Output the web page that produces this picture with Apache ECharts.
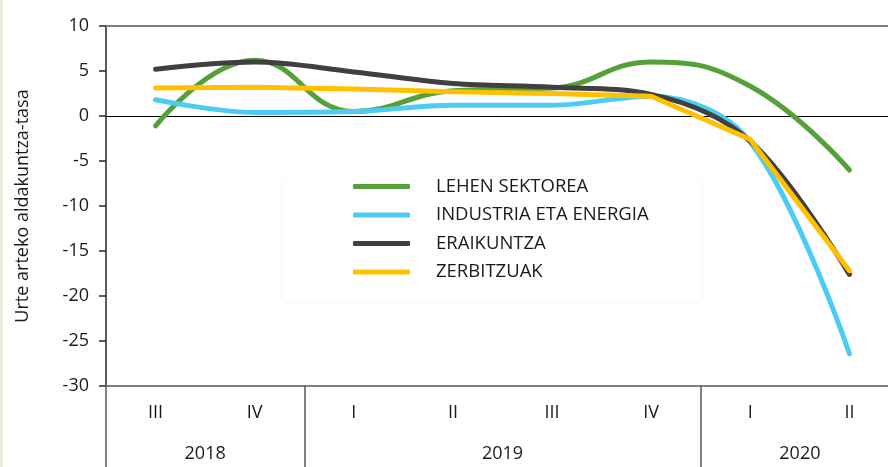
<!DOCTYPE html>
<html>
<head>
<meta charset="utf-8">
<script src="https://cdn.jsdelivr.net/npm/echarts@6/dist/echarts.min.js"></script>
<style>
  html, body { margin: 0; padding: 0; background: #fff; overflow: hidden; }
  #chart { width: 912px; height: 467px; box-sizing: border-box; border-left: 3px solid #e6f2df; }
</style>
</head>
<body>
<div id="chart"></div>
<script>
// ─── Data ─────────────────────────────────────────────────────────────────
const quarters = ["III", "IV", "I", "II", "III", "IV", "I", "II"];
// year label sits at a half-quarter slot (17 slots for 8 quarters)
const years = ["2018", "2019", "2020"];
const yearSlots = [2, 8, 14];
const yearBounds = [0, 4, 12, 16];

const lehenSektorea = [-1.1, 6.2, 0.5, 2.8, 3.1, 6.0, 3.3, -6.0];
const industria     = [1.8, 0.4, 0.5, 1.2, 1.2, 2.2, -2.9, -26.4];
const eraikuntza    = [5.2, 6.0, 4.9, 3.6, 3.2, 2.4, -2.8, -17.6];
const zerbitzuak    = [3.1, 3.2, 3.0, 2.7, 2.5, 2.2, -2.6, -17.2];

const FONT = "'Open Sans', sans-serif";
const TXT = '#1a1a1a';

// ─── Year axis labels (half-quarter slots) ────────────────────────────────
const yearData = [];
for (let i = 0; i <= 16; i++) {
  const k = yearSlots.indexOf(i);
  yearData.push(k >= 0 ? years[k] : '');
}

function line(name, data, color, smooth) {
  return {
    name, type: 'line', data, smooth,
    xAxisIndex: 0,
    showSymbol: false, symbol: 'none',
    lineStyle: { color, width: 5, cap: 'round', join: 'round' },
    itemStyle: { color },
  };
}

// ─── Chart ────────────────────────────────────────────────────────────────
// the plot runs past the right edge of the window, so the div is wider
const chart = echarts.init(document.getElementById('chart'));

chart.setOption({
  animation: false,
  grid: { left: 103, top: 26, bottom: 81, width: 793 },
  legend: {
    orient: 'vertical',
    left: 280, top: 177,
    padding: [0, 52, 20, 70],
    backgroundColor: '#fff',
    shadowBlur: 5,
    shadowColor: 'rgba(0,0,0,0.05)',
    icon: 'roundRect',
    itemWidth: 57, itemHeight: 5,
    itemGap: 9.5,
    textStyle: { fontFamily: FONT, fontSize: 18.5, color: TXT, lineHeight: 18, padding: [0, 0, 0, 21] },
  },
  xAxis: [
    { // quarter labels + short ticks at bottom
      type: 'category', data: quarters, position: 'bottom',
      axisLine: { onZero: false, lineStyle: { color: '#808080', width: 2 } },
      axisTick: { length: 42, lineStyle: { color: '#595959', width: 1.5 } },
      axisLabel: { fontFamily: FONT, fontSize: 18, color: TXT, margin: 18 },
    },
    { // year labels + long ticks at year bounds
      type: 'category', data: yearData, position: 'bottom', boundaryGap: false,
      axisLine: { show: false, onZero: false },
      axisTick: {
        length: 81, interval: (i) => yearBounds.includes(i),
        lineStyle: { color: '#595959', width: 1.5 },
      },
      axisLabel: {
        interval: (i) => yearSlots.includes(i),
        fontFamily: FONT, fontSize: 18, color: TXT, margin: 59,
      },
    },
    { // zero line, ticks upward
      type: 'category', data: quarters,
      axisLine: { onZero: true, lineStyle: { color: '#000', width: 1 } },
      axisTick: { inside: true, length: 6, lineStyle: { color: '#595959', width: 1.5 } },
      axisLabel: { show: false },
    },
    { // zero line, ticks downward
      type: 'category', data: quarters,
      axisLine: { show: false, onZero: true },
      axisTick: { length: 6, lineStyle: { color: '#595959', width: 1.5 } },
      axisLabel: { show: false },
    },
    { // top border
      type: 'category', data: quarters, position: 'top',
      axisLine: { onZero: false, lineStyle: { color: '#808080', width: 2 } },
      axisTick: { show: false },
      axisLabel: { show: false },
    },
  ],
  yAxis: {
    type: 'value', min: -30, max: 10, interval: 5,
    name: 'Urte arteko aldakuntza-tasa',
    nameLocation: 'middle', nameGap: 74,
    nameTextStyle: { fontFamily: FONT, fontSize: 18, color: TXT },
    axisLine: { show: true, lineStyle: { color: '#262626', width: 1.5 } },
    axisTick: { show: true, length: 7, lineStyle: { color: '#262626', width: 1.5 } },
    axisLabel: { fontFamily: FONT, fontSize: 18, color: TXT, margin: 17 },
    splitLine: { show: false },
  },
  series: [
    line('LEHEN SEKTOREA', lehenSektorea, '#56a03a', 0.45),
    line('INDUSTRIA ETA ENERGIA', industria, '#4ccbf5', 0.35),
    line('ERAIKUNTZA', eraikuntza, '#404040', 0.35),
    line('ZERBITZUAK', zerbitzuak, '#ffc000', false),
  ],
});
</script>
</body>
</html>
